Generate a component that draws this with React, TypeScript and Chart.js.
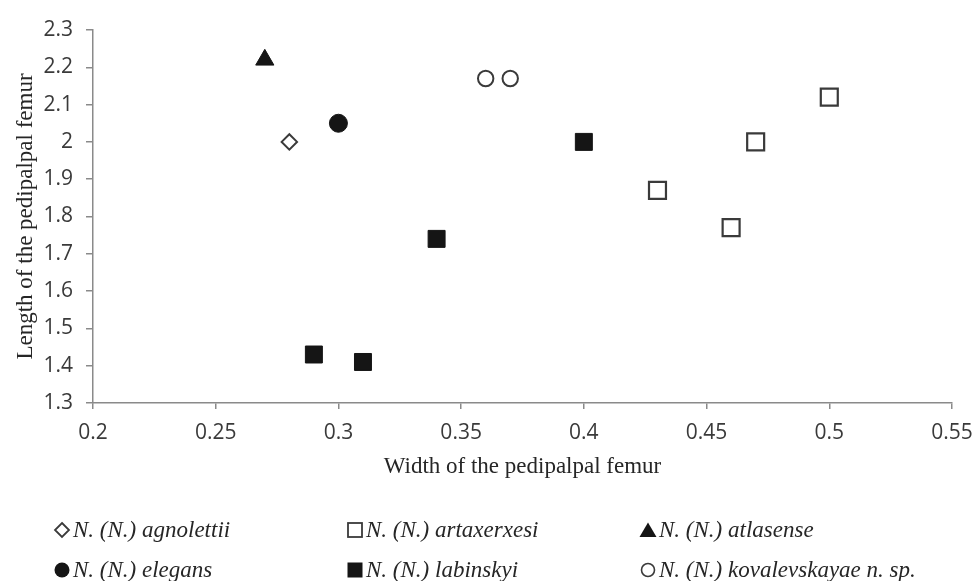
import React, { useEffect, useRef } from "react";
import { Chart, registerables } from "chart.js";

Chart.register(...registerables);

// Axis ticks
const xTicks = [0.2, 0.25, 0.3, 0.35, 0.4, 0.45, 0.5, 0.55];
const yTicks = [1.3, 1.4, 1.5, 1.6, 1.7, 1.8, 1.9, 2, 2.1, 2.2, 2.3];

// Series values (width, length of pedipalpal femur)
const agnolettiiX = [0.28];
const agnolettiiY = [2.0];
const artaxerxesiX = [0.43, 0.46, 0.47, 0.5];
const artaxerxesiY = [1.87, 1.77, 2.0, 2.12];
const atlasenseX = [0.27];
const atlasenseY = [2.22];
const elegansX = [0.3];
const elegansY = [2.05];
const labinskyiX = [0.29, 0.31, 0.34, 0.4];
const labinskyiY = [1.43, 1.41, 1.74, 2.0];
const kovalevskayaeX = [0.36, 0.37];
const kovalevskayaeY = [2.17, 2.17];

const xTitle = "Width of the pedipalpal femur";
const yTitle = "Length of the pedipalpal femur";

const seriesNames = [
  "N. (N.) agnolettii",
  "N. (N.) artaxerxesi",
  "N. (N.) atlasense",
  "N. (N.) elegans",
  "N. (N.) labinskyi",
  "N. (N.) kovalevskayae n. sp.",
];

const toPoints = (xs: number[], ys: number[]) => xs.map((x, i) => ({ x, y: ys[i] }));

const DARK = "#151515";
const OUTLINE = "#3a3a3a";
const AXIS = "#8a8a8a";
const TICK_FONT = '"Open Sans", "Noto Sans", sans-serif';
const SERIF = '"Liberation Serif", "Times New Roman", serif';

type Shape = "diamond" | "squareOpen" | "triangle" | "circle" | "square" | "circleOpen";
const legendShapes: Shape[] = ["diamond", "squareOpen", "triangle", "circle", "square", "circleOpen"];

function Marker({ shape }: { shape: Shape }) {
  const s = 18;
  let el: React.ReactNode = null;
  if (shape === "diamond")
    el = <polygon points="9,2 16,9 9,16 2,9" fill="#fff" stroke={OUTLINE} strokeWidth={1.8} />;
  if (shape === "squareOpen")
    el = <rect x={2} y={2} width={14} height={14} fill="#fff" stroke={OUTLINE} strokeWidth={1.8} />;
  if (shape === "triangle") el = <polygon points="9,1.5 17.5,16 0.5,16" fill={DARK} />;
  if (shape === "circle") el = <circle cx={9} cy={9} r={7.5} fill={DARK} />;
  if (shape === "square") el = <rect x={1.5} y={1.5} width={15} height={15} fill={DARK} />;
  if (shape === "circleOpen")
    el = <circle cx={9} cy={9} r={6.5} fill="#fff" stroke={OUTLINE} strokeWidth={1.6} />;
  return (
    <svg width={s} height={s} style={{ display: "block", flex: "none" }}>
      {el}
    </svg>
  );
}

export default function App() {
  const canvasRef = useRef<HTMLCanvasElement | null>(null);

  useEffect(() => {
    if (!canvasRef.current) return;
    const fmt = (v: any) => String(+Number(v).toFixed(2));
    const chart = new Chart(canvasRef.current, {
      type: "scatter",
      data: {
        datasets: [
          {
            label: seriesNames[0],
            data: toPoints(agnolettiiX, agnolettiiY),
            pointStyle: "rectRot",
            pointRadius: 7.7,
            backgroundColor: "#fff",
            borderColor: OUTLINE,
            borderWidth: 2,
          },
          {
            label: seriesNames[1],
            data: toPoints(artaxerxesiX, artaxerxesiY),
            pointStyle: "rect",
            pointRadius: 12,
            backgroundColor: "#fff",
            borderColor: OUTLINE,
            borderWidth: 2.2,
          },
          {
            label: seriesNames[2],
            data: toPoints(atlasenseX, atlasenseY),
            pointStyle: "triangle",
            pointRadius: 10.5,
            backgroundColor: DARK,
            borderColor: DARK,
            borderWidth: 1,
          },
          {
            label: seriesNames[3],
            data: toPoints(elegansX, elegansY),
            pointStyle: "circle",
            pointRadius: 9,
            backgroundColor: DARK,
            borderColor: DARK,
            borderWidth: 1,
          },
          {
            label: seriesNames[4],
            data: toPoints(labinskyiX, labinskyiY),
            pointStyle: "rect",
            pointRadius: 12,
            backgroundColor: DARK,
            borderColor: DARK,
            borderWidth: 1,
          },
          {
            label: seriesNames[5],
            data: toPoints(kovalevskayaeX, kovalevskayaeY),
            pointStyle: "circle",
            pointRadius: 7.7,
            backgroundColor: "#fff",
            borderColor: OUTLINE,
            borderWidth: 2,
          },
        ],
      },
      options: {
        responsive: false,
        animation: false,
        layout: { padding: { left: 0, right: 20, top: 30, bottom: 88 } },
        plugins: {
          legend: { display: false },
          tooltip: { enabled: false },
        },
        scales: {
          x: {
            type: "linear",
            min: xTicks[0],
            max: xTicks[xTicks.length - 1],
            afterBuildTicks: (s: any) => {
              s.ticks = xTicks.map((v) => ({ value: v }));
            },
            afterFit: (s: any) => {
              s.height = 90;
              s.paddingLeft = 0;
              s.paddingRight = 0;
            },
            ticks: {
              callback: fmt,
              font: { family: TICK_FONT, size: 21 },
              color: "#3a3a3a",
              padding: 11,
              maxRotation: 0,
              autoSkip: false,
            },
            grid: {
              display: true,
              drawOnChartArea: false,
              drawTicks: true,
              tickLength: 6,
              color: AXIS,
              lineWidth: 1.5,
            },
            border: { display: true, color: AXIS, width: 1.5 },
            title: {
              display: true,
              text: xTitle,
              font: { family: SERIF, size: 23 },
              color: "#262626",
              padding: { top: 0, bottom: 12 },
            },
          },
          y: {
            type: "linear",
            min: yTicks[0],
            max: yTicks[yTicks.length - 1],
            afterBuildTicks: (s: any) => {
              s.ticks = yTicks.map((v) => ({ value: v }));
            },
            afterFit: (s: any) => {
              s.width = 93;
              s.paddingTop = 0;
              s.paddingBottom = 0;
            },
            ticks: {
              callback: fmt,
              font: { family: TICK_FONT, size: 21 },
              color: "#3a3a3a",
              padding: 13,
              autoSkip: false,
            },
            grid: {
              display: true,
              drawOnChartArea: false,
              drawTicks: true,
              tickLength: 7,
              color: AXIS,
              lineWidth: 1.5,
            },
            border: { display: true, color: AXIS, width: 1.5 },
            title: {
              display: true,
              text: yTitle,
              font: { family: SERIF, size: 23 },
              color: "#262626",
              padding: { top: 12, bottom: 0 },
            },
          },
        },
      },
    } as any);
    return () => chart.destroy();
  }, []);

  const colX = [53, 346, 639];
  const rowY = [530, 570];

  return (
    <div
      style={{
        position: "fixed",
        left: 0,
        top: 0,
        width: 972,
        height: 581,
        background: "#fff",
        overflow: "hidden",
      }}
    >
      <canvas ref={canvasRef} width={972} height={581} style={{ display: "block" }} />
      {seriesNames.map((name, i) => {
        const col = i % 3;
        const row = Math.floor(i / 3);
        return (
          <div
            key={name}
            style={{
              position: "absolute",
              left: colX[col],
              top: rowY[row] - 16,
              height: 32,
              display: "flex",
              alignItems: "center",
              whiteSpace: "nowrap",
              fontFamily: SERIF,
              fontStyle: "italic",
              fontSize: 23,
              color: "#262626",
            }}
          >
            <Marker shape={legendShapes[i]} />
            <span style={{ marginLeft: 2 }}>{name}</span>
          </div>
        );
      })}
    </div>
  );
}
